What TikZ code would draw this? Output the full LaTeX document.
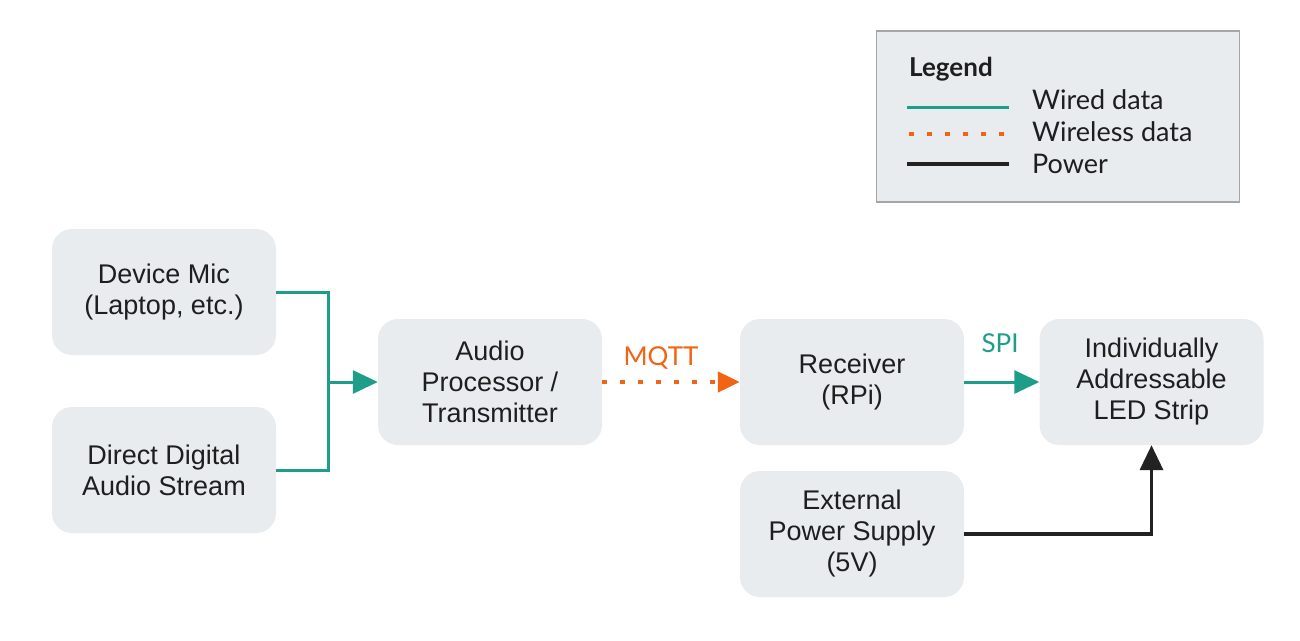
\documentclass[tikz,border=0pt]{standalone}
\usepackage{fontspec}
\setmainfont{Liberation Sans}
\newfontfamily\latofont{Lato}
\usetikzlibrary{arrows.meta}
\definecolor{boxColor}{RGB}{232,236,238}
\definecolor{wiredColor}{RGB}{30,158,137}
\definecolor{wirelessColor}{RGB}{240,100,20}
\definecolor{powerColor}{RGB}{34,34,34}
\definecolor{textColor}{RGB}{30,30,30}
\tikzset{
  block/.style={fill=boxColor,rounded corners=20pt,minimum width=224pt,minimum height=126pt,
    align=center,text=textColor,font=\fontsize{27}{31}\selectfont,inner sep=0pt},
  wired/.style={draw=wiredColor,line width=3pt},
  wireless/.style={draw=wirelessColor,line width=4.5pt,dash pattern=on 4.5pt off 13.5pt},
  power/.style={draw=powerColor,line width=3.5pt},
  tip/.style={-{Triangle[length=25pt,width=23pt]}},
  legendtext/.style={anchor=base west,inner sep=0pt,text=textColor,font=\latofont\fontsize{27}{30}\selectfont}
}
\begin{document}
\begin{tikzpicture}[x=1pt,y=-1pt]
\path[use as bounding box,fill=white] (0,0) rectangle (1300,640);

% blocks
\node[block] (mic) at (164,292) {Device Mic\\(Laptop, etc.)};
\node[block] (stream) at (164,470) {Direct Digital\\Audio Stream};
\node[block] (proc) at (490,382) {Audio\\Processor /\\Transmitter};
\node[block] (recv) at (852,382) {Receiver\\(RPi)};
\node[block] (led) at (1151.5,382) {Individually\\Addressable\\LED Strip};
\node[block] (psu) at (852,534) {External\\Power Supply\\(5V)};

% connectors
\coordinate (join) at (328,382);
\draw[wired,line join=miter] (mic.east) -| (join) |- (stream.east);
\draw[wired,tip] (join) -- (proc.west);
\draw[wireless,-{Triangle[length=22pt,width=20pt]}] (proc.east) -- (recv.west);
\draw[wired,tip] (recv.east) -- (led.west);
\draw[power,tip,line join=miter] (psu.east) -| (led.south);

% labels
\node[anchor=base,inner sep=0pt,text=wirelessColor,font=\latofont\fontsize{26}{28}\selectfont] (mqtt) at (661,365) {MQTT};
\node[anchor=base,inner sep=0pt,text=wiredColor,font=\latofont\fontsize{26}{28}\selectfont] (spi) at (1000,352) {SPI};

% legend
\node[draw=gray!70,line width=1.5pt,fill=boxColor,minimum width=363pt,minimum height=171pt,inner sep=0pt] (legend) at (1058,116.5) {};
\node[legendtext,font=\latofont\bfseries\fontsize{26}{28}\selectfont] (legendtitle) at (909,76) {Legend};
\coordinate (wiredA) at (907,107);
\coordinate (wiredB) at (1009,107);
\coordinate (wirelessA) at (909,134);
\coordinate (wirelessB) at (1005,134);
\coordinate (powerA) at (907,164);
\coordinate (powerB) at (1009,164);
\draw[wired] (wiredA) -- (wiredB);
\draw[wirelessColor,line width=4.5pt,dash pattern=on 4.5pt off 13.5pt] (wirelessA) -- (wirelessB);
\draw[power] (powerA) -- (powerB);
\node[legendtext] (wiredtext) at (1032,109) {Wired data};
\node[legendtext] (wirelesstext) at (1032,141) {Wireless data};
\node[legendtext] (powertext) at (1032,173) {Power};
\end{tikzpicture}
\end{document}
